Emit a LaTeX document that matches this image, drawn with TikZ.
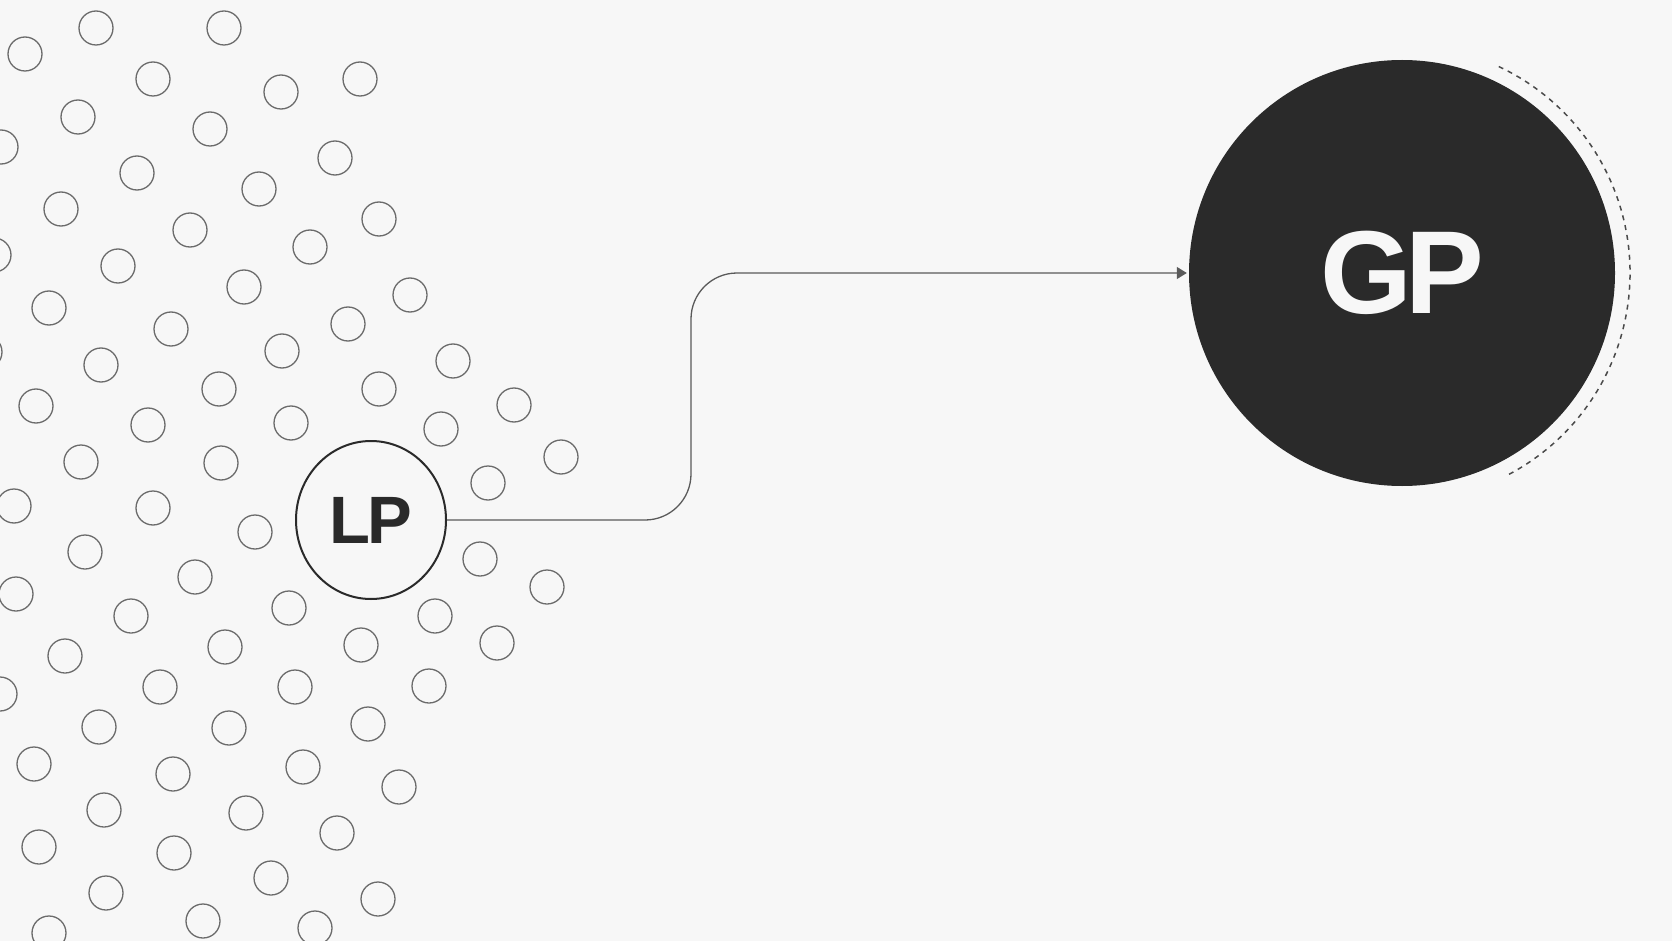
\documentclass[tikz,border=0pt]{standalone}
\usepackage{fontspec}
\usetikzlibrary{arrows.meta}
\usetikzlibrary{shapes.geometric}
\newfontfamily\labelfont{Liberation Sans}
\definecolor{paper}{HTML}{F7F7F7}
\definecolor{ink}{HTML}{2A2A2A}
\definecolor{dotgray}{HTML}{6B6B6B}
\definecolor{wiregray}{HTML}{5A5A5A}
\tikzstyle{dot} = [circle,draw=dotgray,line width=1.3pt,minimum size=34pt,inner sep=0pt]
\tikzstyle{local} = [ellipse,draw=ink,line width=2pt,minimum width=150pt,minimum height=158pt,inner sep=0pt,text=ink,font=\labelfont\bfseries\fontsize{67}{67}\selectfont]
\tikzstyle{global} = [circle,fill=ink,minimum size=426pt,inner sep=0pt,text=paper,font=\labelfont\bfseries\fontsize{118}{118}\selectfont]

\begin{document}
\begin{tikzpicture}[x=1pt,y=1pt,
  wire/.style={draw=wiregray,line width=1.3pt,rounded corners=46pt,shorten >=2pt,-{Triangle[length=10pt,width=12pt]}},
  halo/.style={draw=ink!85,line width=1.5pt,dash pattern=on 5pt off 5pt}]
\fill[paper] (0,0) rectangle (1672,-941);
\useasboundingbox (0,0) rectangle (1672,-941);

% Define nodes
\foreach \x/\y [count=\i] in {96/28,224/28,25/54,153/79,281/92,360/79,78/117,210/129,1/147,137/173,
  259/189,335/158,61/209,190/230,379/219,-6/255,118/266,310/247,244/287,49/308,
  410/295,171/329,348/324,-15/352,282/351,101/365,453/361,219/389,379/389,36/406,
  148/425,291/423,441/429,514/405,561/457,81/462,221/463,488/483,14/506,153/508,
  255/532,85/552,480/559,195/577,16/594,547/587,289/608,435/616,131/616,65/656,
  225/647,361/645,497/643,0/694,160/687,295/687,429/686,99/727,229/728,368/724,
  34/764,173/774,303/767,399/787,104/810,246/813,337/833,39/847,174/853,271/878,
  106/893,378/899,203/921,49/933,315/928}
  \node[dot] (d\i) at (\x,-\y) {};

\node[local]  (lp) at (371,-520) {L\kern-3pt P};
\node[global] (gp) at (1402,-273) {G\kern-7pt P};

% Edges
\draw[wire] (lp.east) -- ++(244,0) |- (gp.west);
\draw[halo] (gp.center) ++(-62:228) arc[start angle=-62, end angle=66, radius=228];

\end{tikzpicture}
\end{document}
